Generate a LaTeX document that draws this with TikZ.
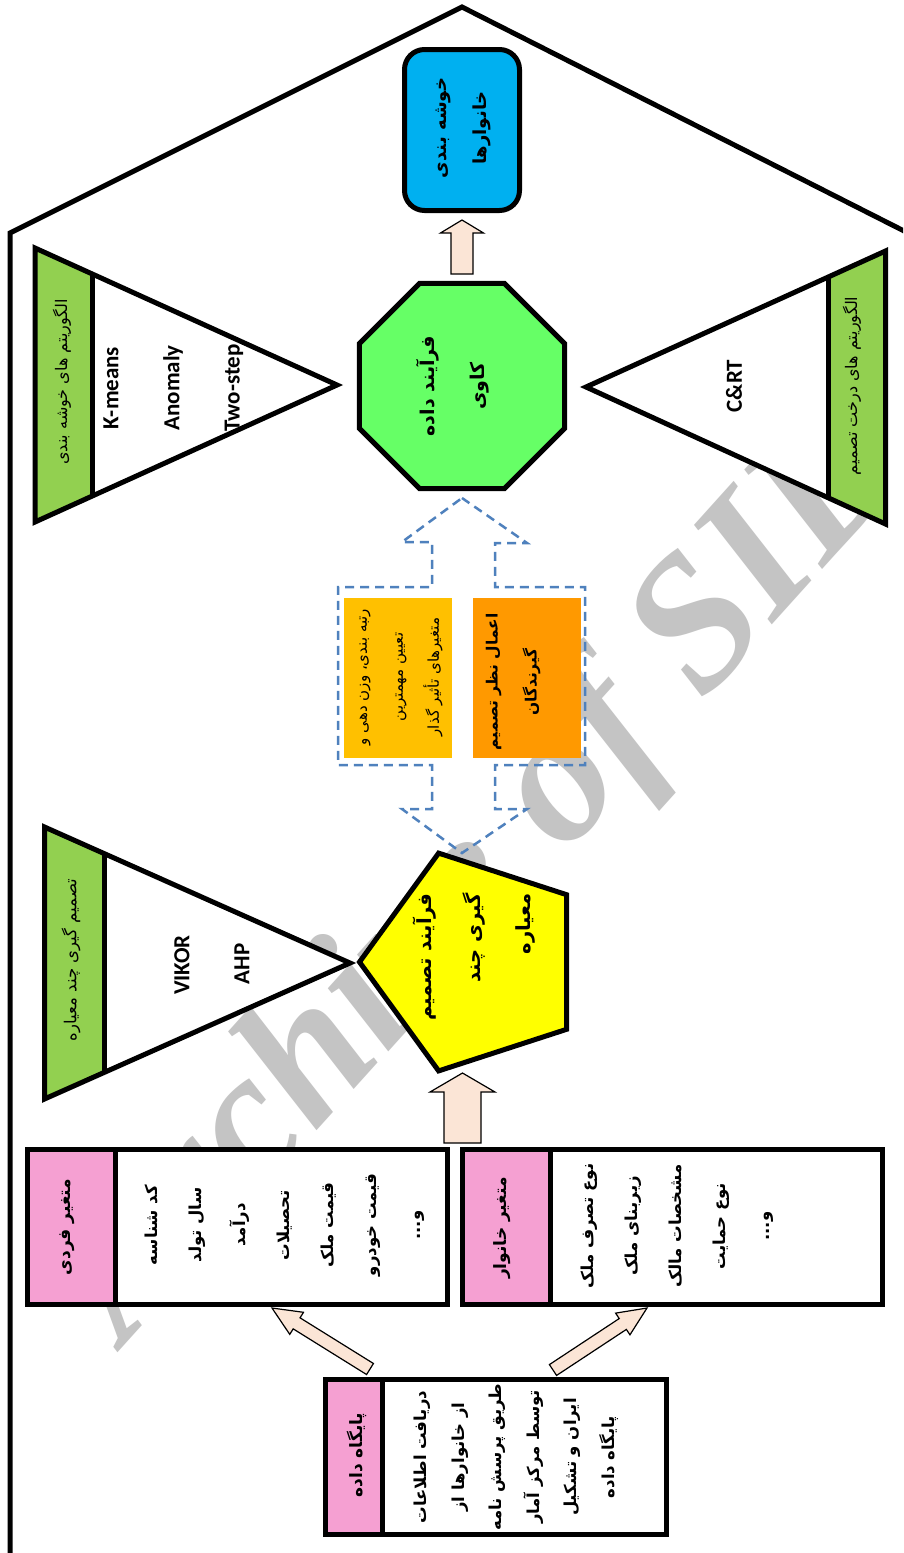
\documentclass[tikz,border=0pt]{standalone}
\usepackage{fontspec}
\setmainfont{Liberation Serif}
\newfontfamily\pfont[Script=Arabic]{DejaVu Sans}
\newfontfamily\latf{Carlito}
\TeXXeTstate=1
\usetikzlibrary{shapes.geometric,calc}
\newcommand\R[1]{\beginR #1\endR}
\newcommand\fsz[2]{\fontsize{#1}{#2}\selectfont}
\definecolor{pinkc}{RGB}{245,160,210}
\definecolor{greenS}{RGB}{146,208,80}
\definecolor{octg}{RGB}{102,255,102}
\definecolor{yel}{RGB}{255,255,0}
\definecolor{bluec}{RGB}{0,176,240}
\definecolor{goldc}{RGB}{255,192,0}
\definecolor{orng}{RGB}{255,153,0}
\definecolor{peach}{RGB}{251,229,214}
\definecolor{dashb}{RGB}{79,129,189}
\definecolor{wmg}{RGB}{196,196,196}
\tikzset{
  thickline/.style={line width=5pt, draw=black},
  boxw/.style={rectangle, draw=black, line width=5pt, fill=white, inner sep=0pt},
  pinkstrip/.style={rectangle, draw=black, line width=5pt, fill=pinkc, inner sep=0pt},
  fa/.style={rotate=90, align=center, inner sep=0pt},
  lt/.style={rotate=90, inner sep=0pt, font=\latf\bfseries\fsz{23}{26}},
  barrow/.style={fill=peach, draw=black, line width=1.2pt, line join=miter},
  dashout/.style={draw=dashb, line width=2.5pt, dash pattern=on 9pt off 6pt},
}
\newcommand\blockarrow[5]{%
  \coordinate (ba-n) at ($(#2)!#5!(#1)$);
  \filldraw[barrow] ($(#1)!#3!90:(#2)$) -- ($(ba-n)!#3!90:(#2)$) -- ($(ba-n)!#4!90:(#2)$) -- (#2) -- ($(ba-n)!#4!-90:(#2)$) -- ($(ba-n)!#3!-90:(#2)$) -- ($(#1)!#3!-90:(#2)$) -- cycle;}
\begin{document}
\begin{tikzpicture}[x=1pt,y=-1pt]
\useasboundingbox (0,0) rectangle (903,1553);
\clip (0,0) rectangle (903,1553);
\fill[white] (0,0) rectangle (903,1553);
% watermark
\node[rotate=48, text=wmg, font=\bfseries\itshape\fsz{190}{190}, inner sep=0pt] (wm) at (485,875) {Archive of SID};
% outer frame
\coordinate (fr1) at (10,1560);
\coordinate (fr2) at (10,233);
\coordinate (fr3) at (462,7);
\coordinate (fr4) at (910,234);
\draw[thickline, line join=miter] (fr1) -- (fr2) -- (fr3) -- (fr4);

% ---------- database box
\node[boxw, minimum width=340pt, minimum height=155pt] (db) at (496.5,1457) {};
\node[pinkstrip, minimum width=57pt, minimum height=155pt] (dbL) at (354,1457) {};
\node[fa, font=\pfont\bfseries\fsz{17}{26}] (dbLT) at (357,1455) {\R{پایگاه داده}};
\node[fa, font=\pfont\bfseries\fsz{16.5}{37.5}] (dbT) at (516,1457) {\R{دریافت اطلاعات}\\ \R{از خانوارها از}\\ \R{طریق پرسش نامه}\\ \R{توسط مرکز آمار}\\ \R{ایران و تشکیل}\\ \R{پایگاه داده}};

% ---------- individual variables box
\node[boxw, minimum width=420pt, minimum height=155pt] (fardi) at (237.5,1227) {};
\node[pinkstrip, minimum width=88pt, minimum height=155pt] (fardiL) at (71.5,1227) {};
\node[fa, font=\pfont\bfseries\fsz{17}{26}] (fardiLT) at (67,1227) {\R{متغیر فردی}};
\node[fa, font=\pfont\bfseries\fsz{16.5}{43.8}] (fardiT) at (285,1225) {\R{کد شناسه}\\ \R{سال تولد}\\ \R{درآمد}\\ \R{تحصیلات}\\ \R{قیمت ملک}\\ \R{قیمت خودرو}\\ \R{و...}};

% ---------- household variables box
\node[boxw, minimum width=420pt, minimum height=155pt] (khan) at (672.5,1227) {};
\node[pinkstrip, minimum width=88pt, minimum height=155pt] (khanL) at (506.5,1227) {};
\node[fa, font=\pfont\bfseries\fsz{17}{26}] (khanLT) at (502,1228) {\R{متغیر خانوار}};
\node[fa, font=\pfont\bfseries\fsz{16.5}{44}] (khanT) at (677,1226) {\R{نوع تصرف ملک}\\ \R{زیربنای ملک}\\ \R{مشخصات مالک}\\ \R{نوع حمایت}\\ \R{و...}};

% ---------- arrows db -> var boxes
\coordinate (a1t) at (370,1369);
\coordinate (a1h) at (272,1308);
\coordinate (a2t) at (553,1370);
\coordinate (a2h) at (647,1308);
\blockarrow{a1t}{a1h}{6.5pt}{13pt}{29pt}
\blockarrow{a2t}{a2h}{6.5pt}{13pt}{29pt}

% ---------- MCDM triangle
\coordinate (t3a) at (44.5,827);
\coordinate (t3b) at (350,963);
\coordinate (t3c) at (44.5,1099);
\fill[white] (t3a) -- (t3b) -- (t3c) -- cycle;
\begin{scope}
\clip (t3a) -- (t3b) -- (t3c) -- cycle;
\fill[greenS] (0,800) rectangle (104,1120);
\end{scope}
\draw[thickline] (104,853) -- (104,1073);
\draw[thickline, line join=miter] (t3a) -- (t3b) -- (t3c) -- cycle;
\node[fa, font=\pfont\fsz{16.5}{20}] (t3L) at (71,960) {\R{تصمیم گیری چند معیاره}};
\node[lt] (vikor) at (182,965) {VIKOR};
\node[lt] (ahp) at (242,964) {AHP};

% ---------- pentagon
\node[regular polygon, regular polygon sides=5, shape border rotate=90, minimum size=229pt, inner sep=0pt, fill=yel, draw=black, line width=5pt] (pent) at (474,962) {};
\node[fa, align=right, anchor=east, font=\pfont\bfseries\fsz{19.5}{49.5}] (pentT) at (474,893) {\R{فرآیند تصمیم}\\ \R{گیری چند}\\ \R{معیاره}};

% ---------- up arrow vars -> pentagon
\coordinate (a3t) at (462.5,1143);
\coordinate (a3h) at (462.5,1073);
\blockarrow{a3t}{a3h}{18.5pt}{32.5pt}{19pt}

% ---------- dashed up-down arrow callout
\coordinate (d1) at (462,498);
\coordinate (d2) at (527,543);
\coordinate (d3) at (495,543);
\coordinate (d4) at (495,587);
\coordinate (d5) at (585,587);
\coordinate (d6) at (585,765);
\coordinate (d7) at (495,765);
\coordinate (d8) at (495,809);
\coordinate (d9) at (527,809);
\coordinate (d10) at (462,853);
\coordinate (d11) at (402,809);
\coordinate (d12) at (432,809);
\coordinate (d13) at (432,765);
\coordinate (d14) at (338,765);
\coordinate (d15) at (338,587);
\coordinate (d16) at (432,587);
\coordinate (d17) at (432,542);
\coordinate (d18) at (402,542);
\draw[dashout] (d1) -- (d2) -- (d3) -- (d4) -- (d5) -- (d6) -- (d7) -- (d8) -- (d9) -- (d10) -- (d11) -- (d12) -- (d13) -- (d14) -- (d15) -- (d16) -- (d17) -- (d18) -- cycle;

\node[rectangle, fill=goldc, minimum width=108pt, minimum height=160pt, inner sep=0pt] (gold) at (398,678) {};
\node[rectangle, fill=orng, minimum width=108pt, minimum height=160pt, inner sep=0pt] (orb) at (527,678) {};
\node[fa, font=\pfont\fsz{15}{36}] (goldT) at (401,677) {\R{رتبه بندی، وزن دهی و}\\ \R{تعیین مهمترین}\\ \R{متغیرهای تأثیر گذار}};
\node[fa, font=\pfont\bfseries\fsz{15.5}{39}] (orbT) at (513,682) {\R{اعمال نظر تصمیم}\\ \R{گیرندگان}};

% ---------- octagon
\node[regular polygon, regular polygon sides=8, minimum size=222pt, inner sep=0pt, fill=octg, draw=black, line width=5pt] (oct) at (462,386) {};
\node[fa, font=\pfont\bfseries\fsz{19}{50}] (octT) at (453,386) {\R{فرآیند داده}\\ \R{کاوی}};

% ---------- up arrow octagon -> blue box
\coordinate (a4t) at (462,274);
\coordinate (a4h) at (462,220);
\blockarrow{a4t}{a4h}{11pt}{21.5pt}{13pt}

% ---------- blue box
\node[rectangle, rounded corners=20pt, minimum width=115pt, minimum height=161pt, inner sep=0pt, fill=bluec, draw=black, line width=5pt] (blue) at (462,130) {};
\node[fa, font=\pfont\bfseries\fsz{18}{40}] (blueT) at (463,128) {\R{خوشه بندی}\\ \R{خانوارها}};

% ---------- clustering triangle
\coordinate (t1a) at (35,248);
\coordinate (t1b) at (337,385);
\coordinate (t1c) at (35,522);
\fill[white] (t1a) -- (t1b) -- (t1c) -- cycle;
\begin{scope}
\clip (t1a) -- (t1b) -- (t1c) -- cycle;
\fill[greenS] (0,230) rectangle (92,540);
\end{scope}
\draw[thickline] (92,274) -- (92,496);
\draw[thickline, line join=miter] (t1a) -- (t1b) -- (t1c) -- cycle;
\node[fa, font=\pfont\fsz{16}{20}] (t1L) at (62,382) {\R{الگوریتم های خوشه بندی}};
\node[lt] (kmeans) at (111,388) {K-means};
\node[lt] (anom) at (173,388) {Anomaly};
\node[lt] (twostep) at (234,388) {Two-step};

% ---------- decision tree triangle
\coordinate (t2a) at (885.5,251);
\coordinate (t2b) at (586,387);
\coordinate (t2c) at (885.5,524);
\fill[white] (t2a) -- (t2b) -- (t2c) -- cycle;
\begin{scope}
\clip (t2a) -- (t2b) -- (t2c) -- cycle;
\fill[greenS] (828,230) rectangle (903,540);
\end{scope}
\draw[thickline] (828,277) -- (828,497);
\draw[thickline, line join=miter] (t2a) -- (t2b) -- (t2c) -- cycle;
\node[fa, font=\pfont\fsz{16}{20}] (t2L) at (852,386) {\R{الگوریتم های درخت تصمیم}};
\node[lt] (cart) at (734,386) {C\&RT};
\end{tikzpicture}
\end{document}
